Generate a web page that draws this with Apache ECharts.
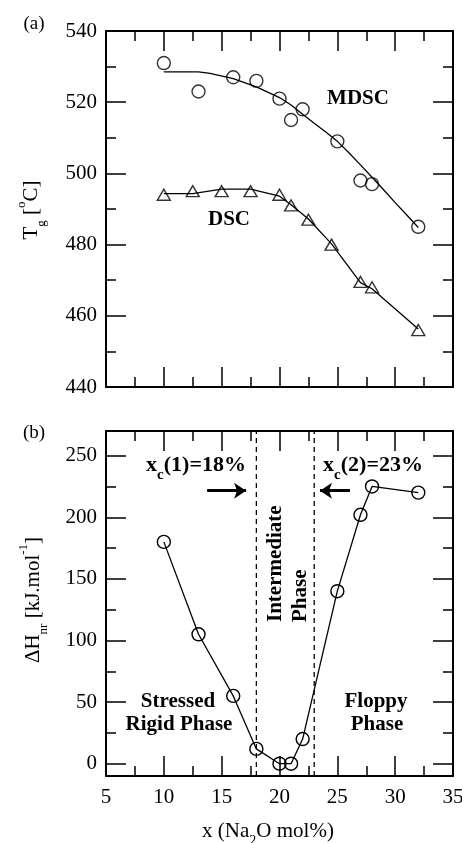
<!DOCTYPE html>
<html><head><meta charset="utf-8">
<script src="https://cdn.jsdelivr.net/npm/echarts@6/dist/echarts.min.js"></script>
<style>html,body{margin:0;padding:0;background:#fff}#c{width:462px;height:843px}</style>
</head><body><div id="c"></div>
<script>
// ---------- data ----------
const xMajor = [5, 10, 15, 20, 25, 30, 35];
const xMinor = [7.5, 12.5, 17.5, 22.5, 27.5, 32.5];
const topYMajor = [440, 460, 480, 500, 520, 540];
const topYMinor = [450, 470, 490, 510, 530];
const botYMajor = [0, 50, 100, 150, 200, 250];
const botYMinor = [25, 75, 125, 175, 225];

const mdscX = [10, 13, 16, 18, 20, 21, 22, 25, 27, 28, 32];
const mdscY = [531, 523, 527, 526, 521, 515, 518, 509, 498, 497, 485];
const mdscFitX = [10, 13, 14, 16, 18, 20, 21, 22, 23, 24, 25, 26, 27, 28, 29, 30, 31, 32];
const mdscFitY = [528.5, 528.5, 528.1, 526.6, 524.3, 521.3, 519.2, 516.6, 514.1, 511.6, 509, 505.8, 502.4, 498.9, 495.4, 491.8, 488.3, 484.8];

const dscX = [10, 12.5, 15, 17.5, 20, 21, 22.5, 24.5, 27, 28, 32];
const dscY = [494, 495, 495, 495, 494, 491, 487, 480, 469.5, 468, 456];
const dscFitX = [10, 12.5, 15, 17.5, 20, 21, 22.5, 24.5, 27, 28, 32];
const dscFitY = [494.3, 494.3, 495.6, 495.6, 493.6, 491.2, 487.2, 480.2, 469.3, 467.6, 456.3];

const dhX = [10, 13, 16, 18, 20, 21, 22, 25, 27, 28, 32];
const dhY = [180, 105, 55, 12, 0, 0, 20, 140, 202, 225, 220];

const boundaries = [18, 23];
const arrowRight = [[13.74, 221.6], [17.11, 221.6]];
const arrowLeft = [[26.1, 221.6], [23.5, 221.6]];

// ---------- helpers ----------
const FONT = 'Liberation Serif';
const zip = (xs, ys) => xs.map((x, i) => [x, ys[i]]);

function axisSet(dim, gi, pos, min, max, majors, minors, showLabels) {
  const base = {type: 'value', gridIndex: gi, position: pos, min: min, max: max,
    splitLine: {show: false}, silent: true, axisPointer: {show: false}};
  const major = Object.assign({}, base, {
    axisLine: {show: true, onZero: false, lineStyle: {color: '#000', width: 2}},
    axisTick: {show: true, inside: true, length: 20, customValues: majors, lineStyle: {color: '#000', width: 1.5}},
    axisLabel: showLabels ? {show: true, customValues: majors, color: '#000', fontFamily: FONT, fontSize: 21,
      margin: dim === 'x' ? 11 : 9} : {show: false}
  });
  const minor = Object.assign({}, base, {
    axisLine: {show: false, onZero: false},
    axisTick: {show: true, inside: true, length: 10, customValues: minors, lineStyle: {color: '#000', width: 1.5}},
    axisLabel: {show: false}
  });
  return [major, minor];
}

const TOPY = [440, 540], BOTY = [-10, 270], XR = [5, 35];

const xAxes = [].concat(
  axisSet('x', 0, 'bottom', XR[0], XR[1], xMajor, xMinor, false),
  axisSet('x', 0, 'top', XR[0], XR[1], xMajor, xMinor, false),
  axisSet('x', 1, 'bottom', XR[0], XR[1], xMajor, xMinor, true),
  axisSet('x', 1, 'top', XR[0], XR[1], xMajor, xMinor, false)
);
const yAxes = [].concat(
  axisSet('y', 0, 'left', TOPY[0], TOPY[1], topYMajor, topYMinor, true),
  axisSet('y', 0, 'right', TOPY[0], TOPY[1], topYMajor, topYMinor, false),
  axisSet('y', 1, 'left', BOTY[0], BOTY[1], botYMajor, botYMinor, true),
  axisSet('y', 1, 'right', BOTY[0], BOTY[1], botYMajor, botYMinor, false)
);

const symStyle = {color: 'rgba(0,0,0,0)', borderColor: '#000', borderWidth: 1.4};
const lineStyle = {color: '#000', width: 1.3};

const series = [
  {type: 'line', xAxisIndex: 0, yAxisIndex: 0, data: zip(mdscFitX, mdscFitY), symbol: 'none', lineStyle: lineStyle, silent: true},
  {type: 'line', xAxisIndex: 0, yAxisIndex: 0, data: zip(dscFitX, dscFitY), symbol: 'none', lineStyle: lineStyle, silent: true},
  {type: 'scatter', xAxisIndex: 0, yAxisIndex: 0, data: zip(mdscX, mdscY), symbol: 'circle', symbolSize: 13, itemStyle: symStyle, silent: true},
  {type: 'scatter', xAxisIndex: 0, yAxisIndex: 0, data: zip(dscX, dscY), symbol: 'triangle', symbolSize: [13, 11], itemStyle: symStyle, silent: true},
  {type: 'line', xAxisIndex: 4, yAxisIndex: 4, data: zip(dhX, dhY), symbol: 'circle', symbolSize: 13, showAllSymbol: true,
    itemStyle: symStyle, lineStyle: lineStyle, silent: true}
];
boundaries.forEach(function (b, i) {
  const s = {type: 'line', xAxisIndex: 4, yAxisIndex: 4, data: [[b, BOTY[0]], [b, BOTY[1]]], symbol: 'none',
    lineStyle: {color: '#000', width: 1.3, type: [5, 4]}, silent: true};
  if (i === 0) {
    s.markLine = {silent: true, symbol: ['none', 'arrow'], symbolSize: 12,
      lineStyle: {type: 'solid', width: 3, color: '#000'}, label: {show: false},
      emphasis: {disabled: true}, animation: false,
      data: [
        [{coord: arrowRight[0]}, {coord: arrowRight[1]}],
        [{coord: arrowLeft[0]}, {coord: arrowLeft[1]}]
      ]};
  }
  series.push(s);
});

// ---------- text ----------
function txt(x, y, text, size, weight, extra) {
  return Object.assign({type: 'text', x: x, y: y, silent: true,
    style: Object.assign({text: text, fontFamily: FONT, fontSize: size, fontWeight: weight || 'normal',
      fill: '#000', align: 'center', verticalAlign: 'middle'}, extra || {})});
}
const bold = {fontFamily: FONT, fontSize: 22, fontWeight: 'bold', fill: '#000', lineHeight: 22, verticalAlign: 'top'};
const boldSub = {fontFamily: FONT, fontSize: 15, fontWeight: 'bold', fill: '#000', lineHeight: 15, padding: [14, 0, 0, 0], verticalAlign: 'top'};

const graphics = [
  txt(34, 24, '(a)', 19),
  txt(34, 433, '(b)', 19),
  txt(358, 99, 'MDSC', 21, 'bold'),
  txt(229, 220, 'DSC', 21, 'bold'),
  txt(178, 702, 'Stressed', 21, 'bold'),
  txt(179, 725, 'Rigid Phase', 21, 'bold'),
  txt(376, 702, 'Floppy', 21, 'bold'),
  txt(377, 725, 'Phase', 21, 'bold'),
  {type: 'text', x: 276, y: 622, rotation: Math.PI / 2, silent: true,
    style: {text: 'Intermediate', fontFamily: FONT, fontSize: 21, fontWeight: 'bold', fill: '#000', align: 'left', verticalAlign: 'middle'}},
  {type: 'text', x: 300.5, y: 622, rotation: Math.PI / 2, silent: true,
    style: {text: 'Phase', fontFamily: FONT, fontSize: 21, fontWeight: 'bold', fill: '#000', align: 'left', verticalAlign: 'middle'}},
  {type: 'text', x: 196, y: 465, silent: true,
    style: {text: '{b|x}{s|c}{b|(1)=18%}', align: 'center', verticalAlign: 'middle', rich: {b: bold, s: boldSub}}},
  {type: 'text', x: 373, y: 465, silent: true,
    style: {text: '{b|x}{s|c}{b|(2)=23%}', align: 'center', verticalAlign: 'middle', rich: {b: bold, s: boldSub}}},
  // x axis title
  {type: 'text', x: 268, y: 832, silent: true,
    style: {text: '{n|x (Na}{s|2}{n|O mol%)}', align: 'center', verticalAlign: 'middle', rich: {
      n: {fontFamily: FONT, fontSize: 21, fill: '#000', lineHeight: 22, verticalAlign: 'top'},
      s: {fontFamily: FONT, fontSize: 14, fill: '#000', lineHeight: 14, padding: [13, 0, 0, 0], verticalAlign: 'top'}}}},
  // Tg label
  {type: 'text', x: 26, y: 210, rotation: Math.PI / 2, silent: true,
    style: {text: '{n|T}{s|g}{n| [}{p|o}{n|C]}', align: 'center', verticalAlign: 'middle', rich: {
      n: {fontFamily: FONT, fontSize: 21, fill: '#000', lineHeight: 22, padding: [6, 0, 0, 0], verticalAlign: 'top'},
      s: {fontFamily: FONT, fontSize: 13, fill: '#000', lineHeight: 13, padding: [20, 0, 0, 0], verticalAlign: 'top'},
      p: {fontFamily: FONT, fontSize: 13, fill: '#000', lineHeight: 13, padding: [0, 0, 0, 0], verticalAlign: 'top'}}}},
  // dH label
  {type: 'text', x: 28, y: 600, rotation: Math.PI / 2, silent: true,
    style: {text: '{n|\u0394H}{s|nr}{n| [kJ.mol}{p|-1}{n|]}', align: 'center', verticalAlign: 'middle', rich: {
      n: {fontFamily: FONT, fontSize: 21, fill: '#000', lineHeight: 22, padding: [6, 0, 0, 0], verticalAlign: 'top'},
      s: {fontFamily: FONT, fontSize: 13, fill: '#000', lineHeight: 13, padding: [20, 0, 0, 0], verticalAlign: 'top'},
      p: {fontFamily: FONT, fontSize: 13, fill: '#000', lineHeight: 13, padding: [0, 0, 0, 0], verticalAlign: 'top'}}}}
];

const chart = echarts.init(document.getElementById('c'), null, {renderer: 'canvas'});
chart.setOption({
  animation: false,
  backgroundColor: '#fff',
  grid: [
    {left: 106, top: 31, width: 347, height: 356, containLabel: false, outerBoundsMode: 'none'},
    {left: 106, top: 431, width: 347, height: 345, containLabel: false, outerBoundsMode: 'none'}
  ],
  xAxis: xAxes,
  yAxis: yAxes,
  series: series,
  graphic: graphics
});
</script></body></html>
